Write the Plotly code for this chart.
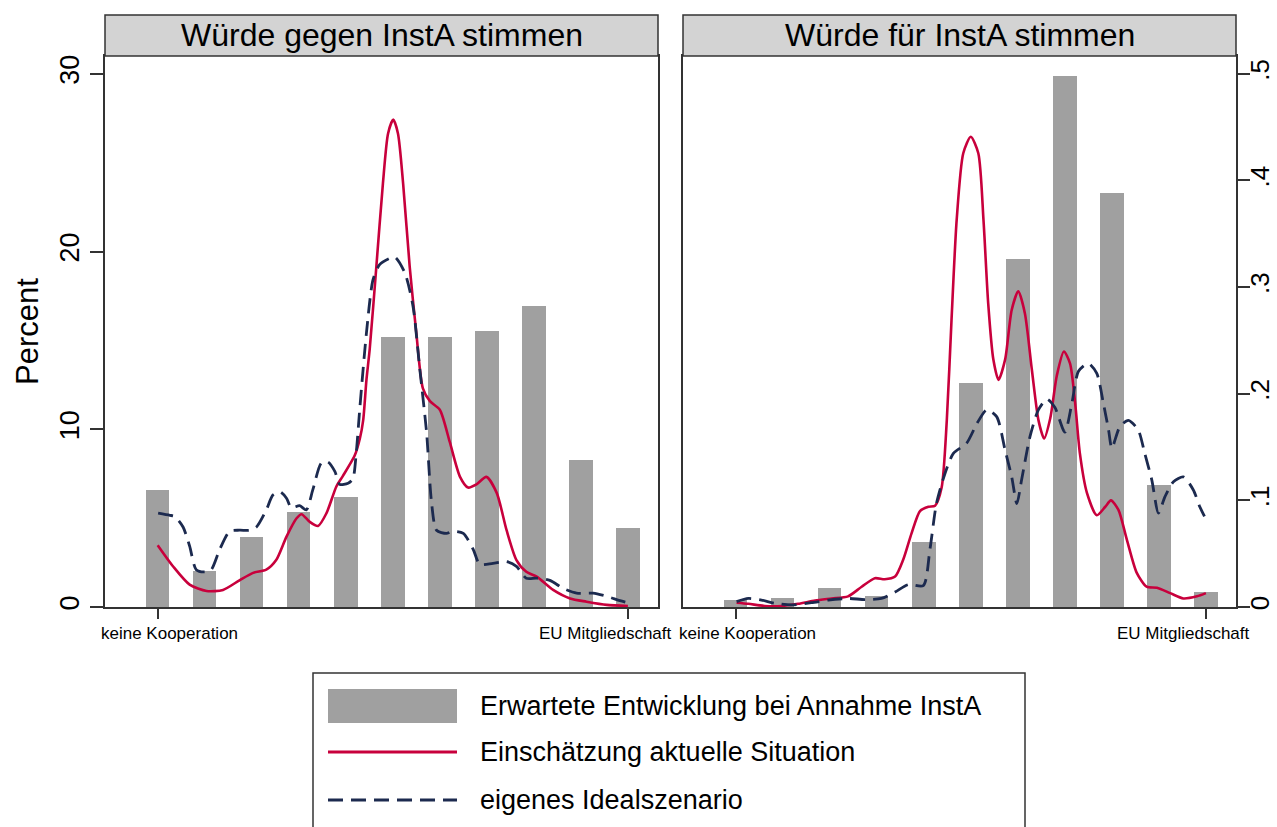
import plotly.graph_objects as go

# ---------------- data ----------------
categories = list(range(11))

# Percent, "Erwartete Entwicklung bei Annahme InstA"
bars_gegen = [6.6, 2.0, 3.95, 5.35, 6.2, 15.2, 15.2, 15.55, 16.95, 8.25, 4.45]
bars_fuer = [0.4, 0.5, 1.05, 0.62, 3.68, 12.6, 19.6, 29.9, 23.3, 6.85, 0.85]

# kernel density curves (density scale, right axis)
x_gegen_aktuell = [0.00, 0.33, 0.68, 1.04, 1.39, 1.74, 2.03, 2.31, 2.52, 2.74, 2.95, 3.06,
                   3.23, 3.41, 3.59, 3.80, 3.94, 4.19, 4.30, 4.37, 4.44, 4.51, 4.65, 4.79,
                   4.90, 5.01, 5.11, 5.22, 5.36, 5.50, 5.64, 5.79, 6.00, 6.21, 6.43, 6.60,
                   6.78, 6.99, 7.21, 7.42, 7.63, 7.84, 8.06, 8.41, 8.77, 9.12, 9.55, 10.0]
d_gegen_aktuell = [0.058, 0.038, 0.021, 0.015, 0.016, 0.025, 0.032, 0.035, 0.044, 0.066, 0.083, 0.087,
                   0.080, 0.076, 0.088, 0.113, 0.123, 0.142, 0.158, 0.175, 0.213, 0.242, 0.319, 0.397,
                   0.444, 0.457, 0.444, 0.397, 0.319, 0.257, 0.205, 0.193, 0.185, 0.155, 0.122, 0.112,
                   0.115, 0.122, 0.107, 0.072, 0.044, 0.033, 0.0285, 0.016, 0.008, 0.005, 0.002, 0.001]

x_gegen_ideal = [0.01, 0.26, 0.36, 0.54, 0.68, 0.82, 1.00, 1.14, 1.32, 1.53, 1.74, 1.96,
                 2.10, 2.31, 2.45, 2.60, 2.74, 2.84, 3.02, 3.16, 3.30, 3.48, 3.62, 3.77,
                 3.87, 4.05, 4.15, 4.22, 4.30, 4.44, 4.58, 4.72, 4.94, 5.05, 5.26, 5.43,
                 5.57, 5.72, 5.82, 5.93, 6.14, 6.28, 6.50, 6.71, 6.85, 7.13, 7.42, 7.63,
                 7.84, 8.06, 8.34, 8.62, 8.91, 9.26, 9.55, 9.83, 10.0]
d_gegen_ideal = [0.088, 0.086, 0.085, 0.075, 0.057, 0.035, 0.033, 0.035, 0.054, 0.071, 0.072, 0.072,
                 0.075, 0.091, 0.105, 0.108, 0.102, 0.093, 0.095, 0.091, 0.110, 0.135, 0.136, 0.127,
                 0.115, 0.116, 0.120, 0.143, 0.187, 0.257, 0.307, 0.321, 0.327, 0.328, 0.313, 0.282,
                 0.225, 0.163, 0.100, 0.072, 0.069, 0.071, 0.069, 0.054, 0.040, 0.041, 0.0425, 0.038,
                 0.027, 0.027, 0.025, 0.0175, 0.013, 0.013, 0.010, 0.006, 0.004]

x_fuer_aktuell = [0.02, 0.27, 0.62, 0.98, 1.33, 1.69, 2.04, 2.39, 2.68, 2.96, 3.17, 3.39,
                  3.56, 3.74, 3.92, 4.10, 4.24, 4.38, 4.49, 4.59, 4.70, 4.84, 5.00, 5.16,
                  5.27, 5.37, 5.48, 5.59, 5.73, 5.87, 6.01, 6.15, 6.30, 6.44, 6.56, 6.69,
                  6.83, 6.98, 7.11, 7.22, 7.32, 7.47, 7.68, 7.86, 7.98, 8.14, 8.32, 8.53,
                  8.74, 8.96, 9.24, 9.52, 9.81, 10.0]
d_fuer_aktuell = [0.004, 0.003, 0.001, 0.001, 0.003, 0.006, 0.008, 0.010, 0.019, 0.027, 0.026, 0.0285,
                  0.044, 0.069, 0.090, 0.094, 0.095, 0.112, 0.175, 0.269, 0.363, 0.4255, 0.441, 0.4255,
                  0.363, 0.285, 0.232, 0.213, 0.232, 0.2785, 0.296, 0.2755, 0.222, 0.175, 0.158, 0.177,
                  0.217, 0.2395, 0.2285, 0.191, 0.144, 0.107, 0.086, 0.094, 0.100, 0.091, 0.063, 0.032,
                  0.019, 0.018, 0.013, 0.008, 0.010, 0.013]

x_fuer_ideal = [0.02, 0.27, 0.55, 0.83, 1.19, 1.61, 1.97, 2.39, 2.75, 3.10, 3.39, 3.67,
                3.99, 4.13, 4.27, 4.45, 4.63, 4.91, 5.13, 5.34, 5.55, 5.73, 5.87, 5.98,
                6.08, 6.26, 6.44, 6.62, 6.79, 7.00, 7.15, 7.29, 7.50, 7.68, 7.82, 7.93,
                8.00, 8.17, 8.35, 8.56, 8.70, 8.85, 8.99, 9.13, 9.31, 9.52, 9.73, 9.87, 9.97]
d_fuer_ideal = [0.005, 0.008, 0.0065, 0.0035, 0.002, 0.004, 0.0065, 0.008, 0.007, 0.008, 0.014, 0.021,
                0.020, 0.0535, 0.097, 0.125, 0.144, 0.1535, 0.172, 0.185, 0.1785, 0.147, 0.122, 0.097,
                0.119, 0.160, 0.185, 0.195, 0.187, 0.164, 0.191, 0.221, 0.2285, 0.219, 0.191, 0.166,
                0.149, 0.169, 0.175, 0.166, 0.144, 0.119, 0.088, 0.1035, 0.1175, 0.122, 0.110, 0.094, 0.085]

panel_titles = ["Würde gegen InstA stimmen", "Würde für InstA stimmen"]
x_ticklabels = ["keine Kooperation", "EU Mitgliedschaft"]
legend_labels = ["Erwartete Entwicklung bei Annahme InstA",
                 "Einschätzung aktuelle Situation",
                 "eigenes Idealszenario"]
pct_ticks = [0, 10, 20, 30]
dens_ticks = [0, 0.1, 0.2, 0.3, 0.4, 0.5]
dens_ticktext = ["0", ".1", ".2", ".3", ".4", ".5"]

# ---------------- styling / geometry ----------------
W, H = 1277, 827
FONT = "Liberation Sans, Arial, Helvetica, sans-serif"
GRAY = "#a0a0a0"
RED = "#c8003c"
NAVY = "#1c2a4f"
FRAME = "#333333"
STRIP = "#d3d3d3"
DASH = "15px,8px"


def fx(p):
    return p / W


def fy(p):
    return 1 - p / H


panels = [(105, 658), (683, 1236)]
PLOT_TOP, PLOT_BOT, STRIP_TOP = 56, 607, 15
PCT_MAX = 31.0
DENS_MAX = PCT_MAX / 60.0
XRANGE = [-1.12, 10.64]

fig = go.Figure()

series = [
    (bars_gegen, x_gegen_aktuell, d_gegen_aktuell, x_gegen_ideal, d_gegen_ideal, "x", "y", "y2"),
    (bars_fuer, x_fuer_aktuell, d_fuer_aktuell, x_fuer_ideal, d_fuer_ideal, "x2", "y3", "y4"),
]
for bars, xa, da, xi, di, xax, ybar, ydens in series:
    fig.add_trace(go.Bar(x=categories, y=bars, width=0.5, marker_color=GRAY,
                         marker_line_width=0, xaxis=xax, yaxis=ybar,
                         name=legend_labels[0], showlegend=False))
    fig.add_trace(go.Scatter(x=xa, y=da, mode="lines", xaxis=xax, yaxis=ydens,
                             line=dict(color=RED, width=2.6, shape="spline", smoothing=0.7),
                             name=legend_labels[1], showlegend=False))
    fig.add_trace(go.Scatter(x=xi, y=di, mode="lines", xaxis=xax, yaxis=ydens,
                             line=dict(color=NAVY, width=2.8, dash=DASH, shape="spline", smoothing=0.7),
                             name=legend_labels[2], showlegend=False))

ydom = [fy(PLOT_BOT), fy(PLOT_TOP)]
xcommon = dict(range=XRANGE, tickvals=[0, 10], ticktext=["", ""], ticks="outside",
               ticklen=10, tickwidth=1.5, tickcolor=FRAME, showline=True, mirror=True,
               linecolor=FRAME, linewidth=1.5, showgrid=False, zeroline=False,
               fixedrange=True, automargin=False)
ycommon = dict(range=[0, PCT_MAX], showgrid=False, zeroline=False, showline=True, mirror=True,
               linecolor=FRAME, linewidth=1.5, fixedrange=True, automargin=False)

fig.update_layout(
    width=W, height=H, margin=dict(l=0, r=0, t=0, b=0, autoexpand=False),
    paper_bgcolor="white", plot_bgcolor="white",
    font=dict(family=FONT, color="black"),
    showlegend=False, bargap=0,
    xaxis=dict(domain=[fx(panels[0][0]), fx(panels[0][1])], anchor="y", **xcommon),
    xaxis2=dict(domain=[fx(panels[1][0]), fx(panels[1][1])], anchor="y3", **xcommon),
    yaxis=dict(domain=ydom, anchor="x", tickvals=pct_ticks, tickangle=-90, ticks="outside",
               ticklen=13, tickwidth=1.5, tickcolor=FRAME, tickfont=dict(size=27),
               title=dict(text="Percent", font=dict(size=31), standoff=8), **ycommon),
    yaxis2=dict(overlaying="y", anchor="x", range=[0, DENS_MAX], visible=False,
                fixedrange=True, automargin=False),
    yaxis3=dict(domain=ydom, anchor="x2", showticklabels=False, ticks="", **ycommon),
    yaxis4=dict(overlaying="y3", anchor="x2", side="right", range=[0, DENS_MAX],
                tickvals=dens_ticks, ticktext=dens_ticktext, tickangle=-90, ticks="outside",
                ticklen=12, tickwidth=1.5, tickcolor=FRAME, tickfont=dict(size=26),
                ticklabelstandoff=-12,
                showgrid=False, zeroline=False, showline=True, linecolor=FRAME, linewidth=1.5,
                fixedrange=True, automargin=False),
)

shapes = []
annotations = []
for (x0, x1), title, xref in zip(panels, panel_titles, ["x", "x2"]):
    shapes.append(dict(type="rect", xref="paper", yref="paper", x0=fx(x0), x1=fx(x1),
                       y0=fy(PLOT_TOP), y1=fy(STRIP_TOP), fillcolor=STRIP,
                       line=dict(color=FRAME, width=1.5)))
    annotations.append(dict(text=title, xref="paper", yref="paper", x=fx((x0 + x1) / 2),
                            y=fy((PLOT_TOP + STRIP_TOP) / 2), xanchor="center", yanchor="middle",
                            showarrow=False, font=dict(size=32, color="black")))
    annotations.append(dict(text=x_ticklabels[0], xref=xref, yref="paper", x=0, xanchor="left",
                            xshift=-59, y=fy(PLOT_BOT), yanchor="middle", yshift=-26,
                            showarrow=False, font=dict(size=17)))
    annotations.append(dict(text=x_ticklabels[1], xref=xref, yref="paper", x=10, xanchor="right",
                            xshift=46, y=fy(PLOT_BOT), yanchor="middle", yshift=-26,
                            showarrow=False, font=dict(size=17)))

# legend (drawn as key box)
LX0, LX1, LY0 = 313, 1025, 673
KX0, KX1, TX = 328, 457, 478
rows = [706, 752, 800]
shapes.append(dict(type="rect", xref="paper", yref="paper", x0=fx(LX0), x1=fx(LX1),
                   y0=fy(LY0), y1=fy(845), fillcolor="rgba(0,0,0,0)",
                   line=dict(color=FRAME, width=1.5)))
shapes.append(dict(type="rect", xref="paper", yref="paper", x0=fx(KX0), x1=fx(KX1),
                   y0=fy(rows[0] - 17), y1=fy(rows[0] + 17), fillcolor=GRAY, line=dict(width=0)))
shapes.append(dict(type="line", xref="paper", yref="paper", x0=fx(KX0), x1=fx(KX1),
                   y0=fy(rows[1]), y1=fy(rows[1]), line=dict(color=RED, width=3.2)))
shapes.append(dict(type="line", xref="paper", yref="paper", x0=fx(KX0), x1=fx(KX1),
                   y0=fy(rows[2]), y1=fy(rows[2]), line=dict(color=NAVY, width=3.2, dash=DASH)))
for label, ry in zip(legend_labels, rows):
    annotations.append(dict(text=label, xref="paper", yref="paper", x=fx(TX), y=fy(ry),
                            xanchor="left", yanchor="middle", showarrow=False,
                            font=dict(size=27, color="black")))

fig.update_layout(shapes=shapes, annotations=annotations)
fig.write_html("out.html")
